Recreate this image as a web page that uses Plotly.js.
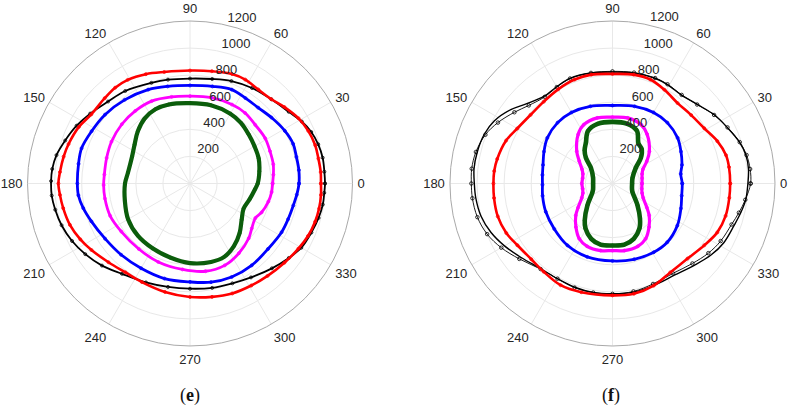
<!DOCTYPE html>
<html>
<head>
<meta charset="utf-8">
<script src="https://cdn.plot.ly/plotly-3.0.1.min.js"></script>
<style>
  html, body { margin: 0; padding: 0; background: #ffffff; }
  #chart { width: 793px; height: 409px; }
</style>
</head>
<body>
<div id="chart"></div>
<script>
// ---------- panel (e) ----------
const thE_black = [0, 5, 11, 17, 23, 29, 36, 46, 57, 68, 78, 90, 102, 111, 125, 135, 145, 153, 161, 168, 174, 179, 185, 191, 198, 206, 214, 223, 233, 246, 258, 270, 282, 293, 303, 314, 323, 330, 338, 345, 351, 356];
const rE_black  = [997, 996, 998, 990, 973, 944, 901, 865, 841, 816, 789, 775, 784, 796, 834, 856, 900, 940, 975, 1008, 1023, 1026, 1025, 1014, 997, 969, 933, 889, 835, 800, 781, 777, 788, 801, 827, 871, 914, 949, 967, 983, 993, 994];

const thE_red = [0, 5, 11, 17, 24, 31, 39, 46, 54, 62, 69, 79, 90, 103, 112, 121, 128, 135, 145, 153, 162, 168, 175, 180, 185, 191, 199, 207, 214, 224, 234, 244, 257, 270, 281, 291, 301, 310, 320, 329, 336, 343, 349, 355];
const rE_red  = [967, 969, 966, 967, 956, 935, 897, 865, 858, 869, 866, 845, 834, 845, 871, 893, 898, 891, 890, 921, 943, 954, 964, 972, 964, 954, 938, 909, 878, 837, 811, 810, 822, 838, 853, 870, 879, 891, 910, 934, 954, 966, 971, 971];

const thE_blue = [0, 7, 14, 21, 29, 39, 48, 57, 66, 77, 90, 103, 114, 128, 141, 152, 162, 170, 180, 186, 193, 201, 213, 226, 240, 255, 270, 282, 294, 307, 320, 332, 340, 348, 354];
const rE_blue  = [805, 810, 810, 816, 801, 774, 753, 752, 759, 736, 724, 736, 759, 784, 808, 823, 842, 836, 832, 829, 809, 780, 748, 732, 723, 727, 727, 745, 756, 757, 752, 766, 771, 780, 793];

const thE_mag = [0, 6, 13, 22, 31, 42, 52, 62, 76, 90, 102, 115, 127, 139, 152, 163, 174, 181, 190, 202, 215, 232, 248, 265, 280, 293, 305, 317, 324, 332, 338, 347, 354];
const rE_mag  = [610, 619, 631, 637, 648, 648, 661, 660, 653, 645, 654, 671, 671, 667, 657, 644, 636, 638, 638, 636, 619, 614, 625, 637, 658, 657, 629, 593, 564, 546, 570, 594, 606];

const thE_green = [0, 10, 20, 30, 40, 50, 60, 75, 90, 105, 115, 125, 135, 145, 155, 170, 180, 195, 210, 225, 240, 255, 270, 285, 295, 305, 315, 325, 335, 345, 355];
const rE_green  = [500, 520, 540, 550, 565, 585, 595, 598, 593, 604, 605, 585, 545, 500, 472, 465, 480, 498, 528, 545, 553, 566, 588, 600, 598, 565, 518, 466, 437, 455, 482];

// ---------- panel (f) ----------
const thF_black = [0, 6, 12, 18, 26, 34, 43, 52, 61, 68, 79, 90, 101, 112, 120, 128, 137, 144, 152, 159, 167, 174, 180, 186, 194, 202, 210, 219, 230, 240, 250, 260, 270, 281, 292, 304, 315, 324, 332, 341, 347, 353];
const rF_blackFit  = [1000, 1010, 1007, 986, 943, 907, 856, 828, 835, 838, 831, 823, 831, 838, 825, 818, 865, 928, 987, 1014, 1025, 1028, 1020, 1015, 1000, 967, 921, 868, 822, 812, 815, 817, 814, 817, 813, 817, 854, 899, 931, 950, 971, 991];
const rF_blackData = [1020, 1022, 1012, 988, 945, 905, 855, 830, 838, 840, 834, 828, 832, 836, 822, 812, 845, 895, 958, 1005, 1035, 1045, 1042, 1040, 1028, 998, 948, 885, 825, 812, 818, 818, 815, 812, 800, 800, 835, 875, 905, 930, 958, 988];

const thF_red = [0, 8, 14, 22, 31, 41, 51, 61, 70, 79, 90, 101, 110, 120, 130, 140, 150, 158, 168, 174, 180, 187, 196, 205, 213, 223, 232, 243, 254, 270, 281, 292, 303, 315, 326, 335, 344, 353];
const rF_red  = [869, 869, 864, 835, 791, 770, 764, 791, 817, 819, 809, 819, 817, 803, 789, 789, 812, 847, 870, 878, 879, 881, 881, 865, 837, 820, 826, 843, 835, 826, 829, 813, 783, 784, 817, 854, 869, 869];

const thF_blue = [0, 8, 15, 25, 35, 48, 60, 74, 90, 106, 120, 132, 145, 155, 165, 173, 181, 190, 203, 218, 234, 251, 270, 286, 301, 313, 327, 340, 350];
const rF_blue  = [515, 509, 531, 558, 587, 605, 606, 593, 576, 593, 606, 605, 587, 558, 531, 521, 517, 524, 535, 545, 565, 573, 572, 582, 592, 593, 571, 538, 519];

const thF_mag = [0, 10, 18, 25, 33, 41, 55, 64, 77, 90, 103, 116, 125, 138, 146, 155, 162, 170, 180, 190, 198, 205, 215, 221, 230, 239, 248, 260, 270, 280, 292, 301, 310, 319, 325, 335, 342, 350];
const rF_mag  = [218, 222, 230, 248, 302, 361, 445, 483, 497, 490, 497, 483, 442, 355, 296, 248, 230, 224, 226, 224, 230, 250, 310, 359, 420, 476, 500, 503, 495, 503, 500, 476, 420, 359, 310, 250, 230, 220];

const thF_green = [0, 16, 34, 42, 50, 57, 65, 76, 90, 104, 115, 123, 130, 136, 144, 163, 180, 197, 205, 221, 233, 239, 249, 259, 270, 281, 291, 301, 308, 319, 337, 344];
const rF_green  = [145, 154, 208, 282, 335, 352, 428, 454, 455, 454, 428, 360, 320, 273, 197, 150, 143, 150, 165, 245, 340, 387, 438, 460, 458, 460, 438, 387, 330, 245, 160, 150];

const radialTicks = [200, 400, 600, 800, 1000, 1200];
const angleTicks = [0, 30, 60, 90, 120, 150, 180, 210, 240, 270, 300, 330];

// closes a curve by repeating its first sample
function ring(a) { return a.concat([a[0]]); }

const C = { black: '#000000', red: '#ff0000', blue: '#0000ff', mag: '#ff00ff', green: '#0b5d0b' };

function dataTrace(sub, th, r, color, lw, ms) {
  return {
    type: 'scatterpolar', subplot: sub, mode: 'lines+markers',
    theta: ring(th), r: ring(r),
    line: { color: color, width: lw, shape: 'spline', smoothing: 1 },
    marker: { symbol: 'circle-open', size: ms, color: color, line: { width: 0.8, color: color } },
    hoverinfo: 'skip', showlegend: false
  };
}
function fitTrace(sub, th, r, color, lw) {
  return {
    type: 'scatterpolar', subplot: sub, mode: 'lines',
    theta: ring(th), r: ring(r),
    line: { color: color, width: lw, shape: 'spline', smoothing: 1 },
    hoverinfo: 'skip', showlegend: false
  };
}
function emptyTrace(sub) {
  return { type: 'scatterpolar', subplot: sub, mode: 'lines', r: [], theta: [], hoverinfo: 'skip', showlegend: false };
}

const traces = [
  dataTrace('polar', thE_black, rE_black, C.black, 1.8, 3),
  dataTrace('polar', thE_red, rE_red, C.red, 2.6, 3),
  dataTrace('polar', thE_blue, rE_blue, C.blue, 2.8, 3),
  dataTrace('polar', thE_mag, rE_mag, C.mag, 2.8, 3),
  dataTrace('polar', thE_green, rE_green, C.green, 4.2, 3),

  dataTrace('polar2', thF_black, rF_blackData, C.black, 0.9, 3.5),
  fitTrace('polar2', thF_black, rF_blackFit, C.black, 1.4),
  dataTrace('polar2', thF_red, rF_red, C.red, 2.6, 3),
  dataTrace('polar2', thF_blue, rF_blue, C.blue, 2.8, 3),
  dataTrace('polar2', thF_mag, rF_mag, C.mag, 3.2, 3),
  dataTrace('polar2', thF_green, rF_green, C.green, 4.6, 3),

  emptyTrace('polar3'),
  emptyTrace('polar4')
];

const tickFont = { family: 'Liberation Sans, Arial, sans-serif', size: 13, color: '#262626' };

// plotting frame: grid, outer circle and angle labels
function polarFrame(xd) {
  return {
    domain: { x: xd, y: [0.154, 0.9487] },
    bgcolor: '#ffffff',
    angularaxis: {
      rotation: 0, direction: 'counterclockwise',
      tickmode: 'array', tickvals: angleTicks,
      ticks: 'outside', ticklen: 2, tickcolor: 'rgba(0,0,0,0)',
      showline: true, linecolor: '#a9a9a9', linewidth: 1,
      gridcolor: '#e8e8e8', gridwidth: 1, tickfont: tickFont
    },
    radialaxis: {
      range: [0, 1200], tickmode: 'array', tickvals: radialTicks,
      showticklabels: false, showline: false, ticks: '',
      gridcolor: '#e8e8e8', gridwidth: 1
    }
  };
}
// label layer: radial tick labels set slightly outward of their circles
function polarLabels(xd) {
  return {
    domain: { x: xd, y: [0.1345, 0.978] },
    bgcolor: 'rgba(0,0,0,0)',
    angularaxis: { visible: false, showgrid: false, showline: false, ticks: '', showticklabels: false },
    radialaxis: {
      range: [-75, 1200], tickmode: 'array', tickvals: radialTicks,
      angle: 77, tickangle: 77, side: 'clockwise',
      showgrid: false, showline: false, ticks: '', tickfont: tickFont
    }
  };
}

const layout = {
  width: 793, height: 409,
  margin: { l: 0, r: 0, t: 0, b: 0 },
  paper_bgcolor: '#ffffff',
  showlegend: false,
  polar: polarFrame([0.0347, 0.4445]),
  polar2: polarFrame([0.5674, 0.9773]),
  polar3: polarLabels([0.0120, 0.4470]),
  polar4: polarLabels([0.5445, 0.9796]),
  annotations: [
    { text: '(<b>e</b>)', x: 190, y: 395, xref: 'paper', yref: 'paper', showarrow: false,
      xanchor: 'center', yanchor: 'middle',
      font: { family: 'Liberation Serif, serif', size: 18, color: '#111' } },
    { text: '(<b>f</b>)', x: 611, y: 395, xref: 'paper', yref: 'paper', showarrow: false,
      xanchor: 'center', yanchor: 'middle',
      font: { family: 'Liberation Serif, serif', size: 18, color: '#111' } }
  ]
};
// annotation positions above are in pixels; convert to paper fractions
layout.annotations.forEach(a => { a.x = a.x / 793; a.y = 1 - a.y / 409; });

Plotly.newPlot('chart', traces, layout, { staticPlot: true, displayModeBar: false });
</script>
</body>
</html>
